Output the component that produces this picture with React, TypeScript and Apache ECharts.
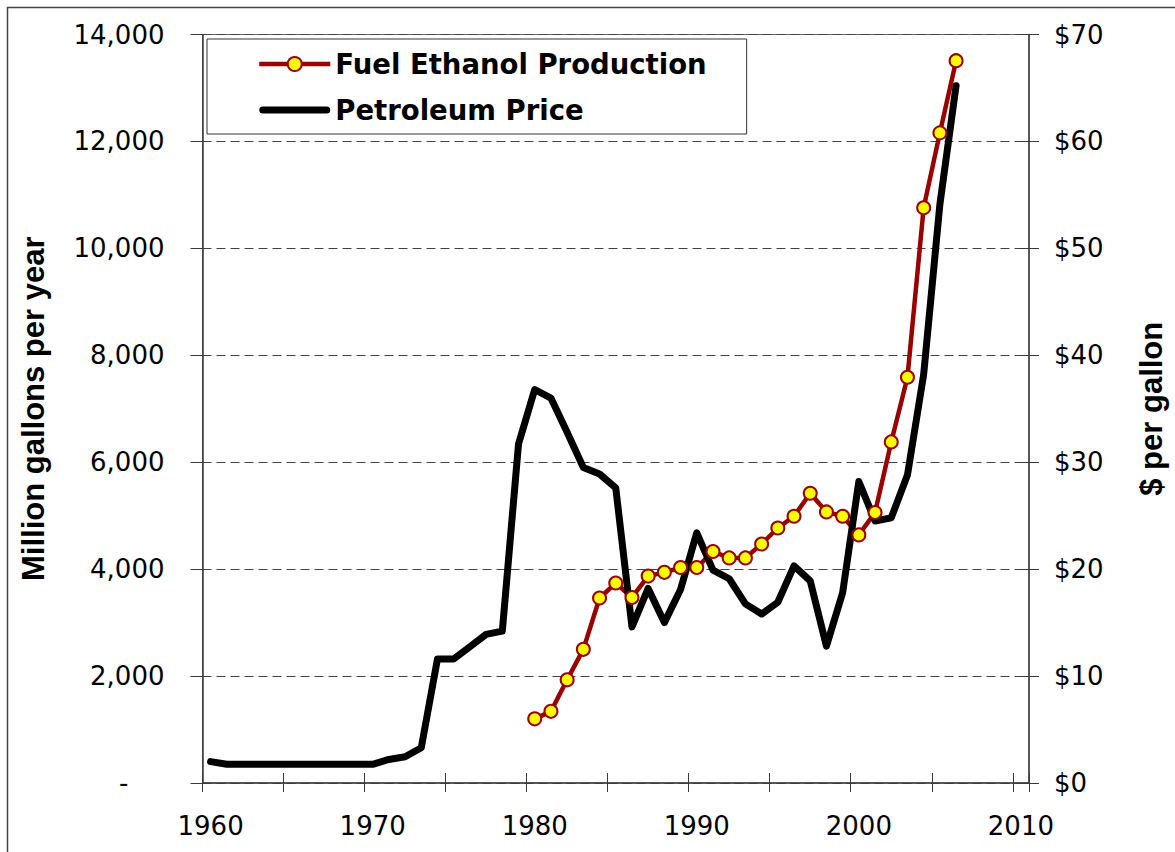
import React, { useEffect, useRef } from "react";
import * as echarts from "echarts";

// Category axis: one band per year
const firstYear = 1960;
const lastYear = 2010;
const years: string[] = [];
for (let y = firstYear; y <= lastYear; y++) years.push(String(y));

// Petroleum price ($ per gallon, right axis), 1960–2006
const petroleumStartYear = 1960;
const petroleumPrice = [
  2.0, 1.75, 1.75, 1.75, 1.75, 1.75, 1.75, 1.75, 1.75, 1.75, // 1960-1969
  1.75, 2.2, 2.45, 3.3, 11.6, 11.6, 12.75, 13.9, 14.2, 31.7, // 1970-1979
  36.8, 36.0, 32.8, 29.5, 28.9, 27.6, 14.6, 18.2, 15.0, 18.1, // 1980-1989
  23.4, 19.9, 19.1, 16.75, 15.8, 16.9, 20.3, 18.9, 12.8, 17.8, // 1990-1999
  28.2, 24.5, 24.8, 28.8, 38.2, 54.1, 65.2, // 2000-2006
];

// Fuel ethanol production (million gallons per year, left axis), 1980–2006
const ethanolStartYear = 1980;
const ethanolProduction = [
  1200, 1340, 1930, 2500, 3460, 3740, 3470, 3870, 3940, 4030, // 1980-1989
  4030, 4330, 4210, 4210, 4470, 4770, 4990, 5420, 5070, 4990, // 1990-1999
  4640, 5060, 6380, 7590, 10760, 12160, 13510, // 2000-2006
];

const seriesNames = ["Fuel Ethanol Production", "Petroleum Price"];
const leftAxisTitle = "Million gallons per year";
const rightAxisTitle = "$ per gallon";

function align(start: number, values: number[]): (number | null)[] {
  return years.map((y) => {
    const i = Number(y) - start;
    return i >= 0 && i < values.length ? values[i] : null;
  });
}

const TICK_FONT = "'DejaVu Sans', Verdana, sans-serif";
const TITLE_FONT = "'Liberation Sans', Arial, sans-serif";

export default function App() {
  const ref = useRef<HTMLDivElement>(null);

  useEffect(() => {
    if (!ref.current) return;
    const chart = echarts.init(ref.current, undefined, { renderer: "svg" });
    const axisColor = "#3a3a3a";
    const option: any = {
      animation: false,
      backgroundColor: "#ffffff",
      grid: {
        left: 202.5,
        right: 145,
        top: 34.5,
        bottom: 69,
        show: true,
        borderColor: "#666",
        borderWidth: 1,
        backgroundColor: "transparent",
      },
      legend: {
        orient: "vertical",
        left: 207,
        top: 39,
        padding: [9, 40, 8, 50],
        itemWidth: 71,
        itemHeight: 17.5,
        itemGap: 14,
        selectedMode: false,
        borderColor: "#333",
        borderWidth: 1,
        backgroundColor: "#fff",
        lineStyle: { width: "inherit" },
        textStyle: {
          fontFamily: TICK_FONT,
          fontWeight: "bold",
          fontSize: 27.5,
          lineHeight: 32,
          color: "#000",
        },
        data: [
          { name: seriesNames[0] },
          {
            name: seriesNames[1],
            icon: "path://M3.5,0 L67.5,0 A3.5,3.5 0 0 1 67.5,7 L3.5,7 A3.5,3.5 0 0 1 3.5,0 Z",
          },
        ],
      },
      xAxis: [
        {
          type: "category",
          data: years,
          boundaryGap: true,
          position: "bottom",
          axisLine: { show: true, lineStyle: { color: axisColor, width: 1.5 } },
          axisTick: { show: true, interval: 4, length: 9, lineStyle: { color: axisColor } },
          axisLabel: {
            interval: 9,
            margin: 30,
            fontFamily: TICK_FONT,
            fontSize: 26,
            color: "#000",
          },
          splitLine: { show: false },
        },
        {
          type: "category",
          data: years,
          boundaryGap: true,
          position: "bottom",
          axisLine: { show: false },
          axisTick: { show: true, interval: 4, inside: true, length: 10, lineStyle: { color: axisColor } },
          axisLabel: { show: false },
          splitLine: { show: false },
        },
      ],
      yAxis: [
        {
          type: "value",
          position: "left",
          min: 0,
          max: 14000,
          interval: 2000,
          name: leftAxisTitle,
          nameLocation: "middle",
          nameRotate: 90,
          nameGap: 154,
          nameTextStyle: {
            fontFamily: TITLE_FONT,
            fontWeight: "bold",
            fontSize: 31,
            color: "#000",
          },
          axisLine: { show: true, lineStyle: { color: axisColor, width: 1.5 } },
          axisTick: { show: true, length: 12, lineStyle: { color: axisColor } },
          axisLabel: {
            margin: 38,
            fontFamily: TICK_FONT,
            fontSize: 26,
            color: "#000",
            formatter: (v: number) =>
              v === 0 ? "{dash|-}" : v.toLocaleString("en-US"),
            rich: {
              dash: {
                fontFamily: TICK_FONT,
                fontSize: 26,
                color: "#000",
                padding: [0, 36, 0, 0],
              },
            },
          },
          splitLine: {
            show: true,
            lineStyle: { color: "#444", width: 1, type: [9, 5] },
          },
        },
        {
          type: "value",
          position: "right",
          min: 0,
          max: 70,
          interval: 10,
          name: rightAxisTitle,
          nameLocation: "middle",
          nameRotate: 90,
          nameGap: 107,
          nameTextStyle: {
            fontFamily: TITLE_FONT,
            fontWeight: "bold",
            fontSize: 31,
            color: "#000",
          },
          axisLine: { show: true, lineStyle: { color: axisColor, width: 1.5 } },
          axisTick: { show: true, length: 10, lineStyle: { color: axisColor } },
          axisLabel: {
            margin: 25,
            fontFamily: TICK_FONT,
            fontSize: 26,
            color: "#000",
            formatter: (v: number) => "$" + v,
          },
          splitLine: { show: false },
        },
        {
          type: "value",
          position: "right",
          min: 0,
          max: 70,
          interval: 10,
          axisLine: { show: false },
          axisTick: { show: true, inside: true, length: 10, lineStyle: { color: axisColor } },
          axisLabel: { show: false },
          splitLine: { show: false },
        },
      ],
      graphic: [
        {
          type: "rect",
          silent: true,
          shape: { x: 7.5, y: 7.5, width: 1200, height: 900 },
          style: { fill: "none", stroke: "#444", lineWidth: 1.5 },
        },
      ],
      series: [
        {
          name: seriesNames[0],
          type: "line",
          xAxisIndex: 0,
          yAxisIndex: 0,
          data: align(ethanolStartYear, ethanolProduction),
          symbol: "circle",
          symbolSize: 13,
          showSymbol: true,
          showAllSymbol: true,
          connectNulls: false,
          lineStyle: { color: "#990000", width: 4.5, join: "round" },
          itemStyle: { color: "#FFFF00", borderColor: "#990000", borderWidth: 2 },
          emphasis: { disabled: true },
        },
        {
          name: seriesNames[1],
          type: "line",
          xAxisIndex: 0,
          yAxisIndex: 1,
          data: align(petroleumStartYear, petroleumPrice),
          symbol: "none",
          connectNulls: false,
          lineStyle: { color: "#000", width: 7, cap: "round", join: "round" },
          itemStyle: { color: "#000" },
          emphasis: { disabled: true },
        },
      ],
    };
    chart.setOption(option);
    return () => chart.dispose();
  }, []);

  return (
    <div
      ref={ref}
      style={{ position: "absolute", left: 0, top: 0, width: 1175, height: 852, background: "#fff" }}
    />
  );
}
